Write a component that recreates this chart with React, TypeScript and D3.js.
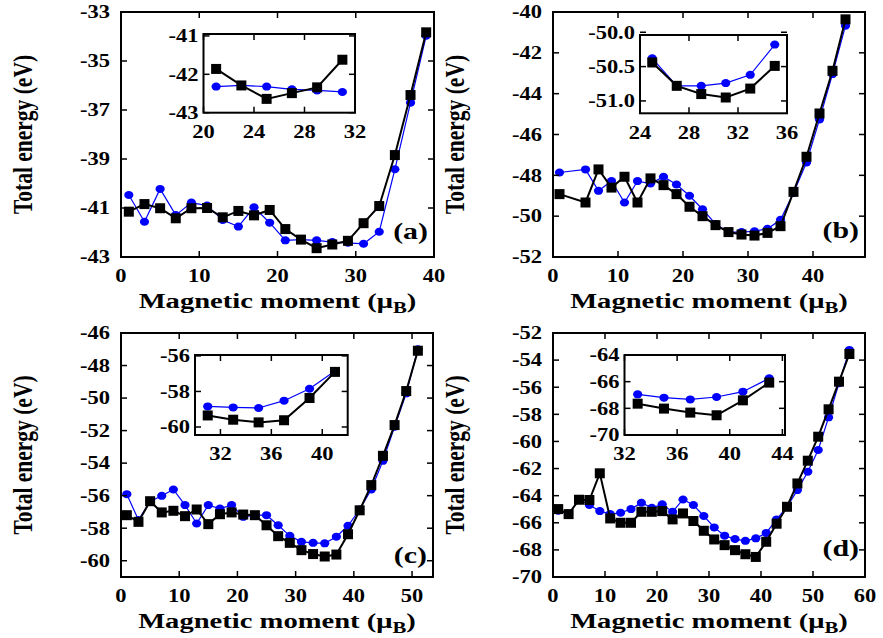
import * as d3 from "d3";

const FONT = "'Liberation Serif', 'Times New Roman', Times, serif";
const SX = 1.25; // the original figure is stretched sideways
const BLUE = "#0000ff";

// ---- panel (a) ----
const momentA = [1, 3, 5, 7, 9, 11, 13, 15, 17, 19, 21, 23, 25, 27, 29, 31, 33, 35, 37, 39];
const squaresA = [-41.15, -40.84, -41.01, -41.42, -41.01, -41.0, -41.38, -41.12, -41.3, -41.08,
  -41.86, -42.29, -42.64, -42.49, -42.34, -41.62, -40.92, -38.84, -36.39, -33.83];
const circlesA = [-40.47, -41.56, -40.22, -41.29, -40.78, -40.9, -41.49, -41.76, -40.97, -41.6,
  -42.32, -42.29, -42.32, -42.39, -42.42, -42.46, -41.97, -39.42, -36.7, -33.97];

// ---- panel (b) ----
const momentB = [1, 5, 7, 9, 11, 13, 15, 17, 19, 21, 23, 25, 27, 29, 31, 33, 35, 37, 39, 41, 43, 45];
const squaresB = [-48.92, -49.33, -47.71, -48.6, -48.07, -49.33, -48.15, -48.48, -48.92, -49.54, -50.0,
  -50.44, -50.78, -50.9, -50.95, -50.82, -50.49, -48.81, -47.09, -44.97, -42.88, -40.36];
const circlesB = [-47.86, -47.71, -48.76, -48.28, -49.33, -48.28, -48.4, -48.07, -48.45, -49.0, -49.66,
  -50.38, -50.78, -50.78, -50.74, -50.62, -50.18, -48.86, -47.37, -45.26, -43.04, -40.67];

// ---- panel (c) ----
const momentC = [1, 3, 5, 7, 9, 11, 13, 15, 17, 19, 21, 23, 25, 27, 29, 31, 33, 35, 37, 39, 41, 43, 45, 47, 49, 51];
const squaresC = [-57.2, -57.61, -56.34, -57.03, -56.93, -57.26, -56.85, -57.75, -57.14, -57.03, -57.16, -57.2, -57.82,
  -58.49, -58.9, -59.35, -59.59, -59.74, -59.62, -58.37, -56.9, -55.35, -53.55, -51.66, -49.57, -47.09];
const circlesC = [-55.91, -57.5, -56.35, -56.01, -55.62, -56.58, -57.71, -56.58, -56.79, -56.58, -57.3, -57.2, -57.2,
  -57.82, -58.47, -58.84, -58.9, -58.93, -58.52, -57.85, -56.85, -55.62, -53.86, -51.76, -49.71, -47.0];

// ---- panel (d) ----
const momentD = [1, 3, 5, 7, 9, 11, 13, 15, 17, 19, 21, 23, 25, 27, 29, 31, 33, 35, 37, 39, 41, 43, 45, 47, 49, 51, 53, 55, 57];
const squaresD = [-64.99, -65.36, -64.3, -64.32, -62.35, -65.68, -66.0, -66.0, -65.19, -65.19, -65.14, -65.75, -65.31, -65.87,
  -66.59, -67.23, -67.65, -68.02, -68.32, -68.52, -67.4, -66.07, -64.82, -63.1, -61.42, -59.65, -57.63, -55.59, -53.55];
const circlesD = [-65.11, -65.36, -64.28, -64.69, -65.14, -65.36, -65.26, -64.99, -64.52, -64.89, -64.64, -65.19, -64.28, -64.69,
  -65.5, -66.34, -66.95, -67.2, -67.33, -67.15, -66.75, -65.75, -64.82, -63.59, -62.23, -60.63, -58.22, -55.71, -53.25];

// tick labels
const xTicksA = [0, 10, 20, 30, 40];
const yTicksA = [-43, -41, -39, -37, -35, -33];
const xTicksB = [0, 10, 20, 30, 40];
const yTicksB = [-52, -50, -48, -46, -44, -42, -40];
const xTicksC = [0, 10, 20, 30, 40, 50];
const yTicksC = [-60, -58, -56, -54, -52, -50, -48, -46];
const xTicksD = [0, 10, 20, 30, 40, 50, 60];
const yTicksD = [-70, -68, -66, -64, -62, -60, -58, -56, -54, -52];

const insetXTicksA = [20, 24, 28, 32];
const insetYTicksA = [-43, -42, -41];
const insetXTicksB = [24, 28, 32, 36];
const insetYTicksB = [-51.0, -50.5, -50.0];
const insetXTicksC = [32, 36, 40];
const insetYTicksC = [-60, -58, -56];
const insetXTicksD = [32, 36, 40, 44];
const insetYTicksD = [-70, -68, -66, -64];

const panels = [
  {
    label: "(a)", moment: momentA, squares: squaresA, circles: circlesA,
    xDomain: [0, 40], yDomain: [-43, -33], xTicks: xTicksA, yTicks: yTicksA,
    left: 121, right: 434, top: 12, bottom: 257, labelDy: 18,
    inset: { range: [21, 31], xDomain: [20, 32], yDomain: [-43, -40.95], xTicks: insetXTicksA, yTicks: insetYTicksA, dec: 0,
      left: 203.5, right: 355, top: 34, bottom: 112.7 },
  },
  {
    label: "(b)", moment: momentB, squares: squaresB, circles: circlesB,
    xDomain: [0, 48], yDomain: [-52, -40], xTicks: xTicksB, yTicks: yTicksB,
    left: 553, right: 865, top: 12, bottom: 257, labelDy: 19,
    inset: { range: [25, 35], xDomain: [24, 36], yDomain: [-51.18, -50.04], xTicks: insetXTicksB, yTicks: insetYTicksB, dec: 1,
      left: 640, right: 787, top: 35, bottom: 113.3 },
  },
  {
    label: "(c)", moment: momentC, squares: squaresC, circles: circlesC,
    xDomain: [0, 53.6], yDomain: [-61, -46], xTicks: xTicksC, yTicks: yTicksC,
    left: 121, right: 433, top: 333, bottom: 577, labelDy: 14,
    inset: { range: [31, 41], xDomain: [30, 42], yDomain: [-60.45, -55.95], xTicks: insetXTicksC, yTicks: insetYTicksC, dec: 0,
      left: 195, right: 347.7, top: 355, bottom: 435 },
  },
  {
    label: "(d)", moment: momentD, squares: squaresD, circles: circlesD,
    xDomain: [0, 60], yDomain: [-70, -52], xTicks: xTicksD, yTicks: yTicksD,
    left: 553, right: 865, top: 333, bottom: 577, labelDy: 21,
    inset: { range: [33, 43], xDomain: [32, 44.2], yDomain: [-70, -64], xTicks: insetXTicksD, yTicks: insetYTicksD, dec: 0,
      left: 624.5, right: 785, top: 355, bottom: 435 },
  },
];

function SText({ x, y, size, anchor = "middle", sx = SX, dy = "0.35em", children }: any) {
  return (
    <text transform={`translate(${x},${y}) scale(${sx},1)`} fontFamily={FONT} fontWeight="bold"
      fontSize={size} textAnchor={anchor} dy={dy} fill="#000">
      {children}
    </text>
  );
}

function Series({ xs, ys, x, y, kind }: any) {
  const pts = xs.map((m: number, i: number) => [x(m), y(ys[i])]);
  const line = d3.line();
  if (kind === "circle") {
    return (
      <g>
        <path d={line(pts) as string} fill="none" stroke={BLUE} strokeWidth={1.2} />
        {pts.map((p: number[], i: number) => (
          <ellipse key={i} cx={p[0]} cy={p[1]} rx={4.6} ry={4} fill={BLUE} />
        ))}
      </g>
    );
  }
  return (
    <g>
      <path d={line(pts) as string} fill="none" stroke="#000" strokeWidth={2} />
      {pts.map((p: number[], i: number) => (
        <rect key={i} x={p[0] - 5} y={p[1] - 5} width={10} height={10} fill="#000" />
      ))}
    </g>
  );
}

function Frame({ x, y, xTicks, yTicks, dec, yLabelGap }: any) {
  const [l, r] = x.range();
  const [b, t] = y.range();
  const tl = 6;
  return (
    <g>
      {xTicks.map((v: number) => (
        <g key={"x" + v}>
          <line x1={x(v)} x2={x(v)} y1={b} y2={b - tl} stroke="#000" strokeWidth={1.5} />
          <line x1={x(v)} x2={x(v)} y1={t} y2={t + tl} stroke="#000" strokeWidth={1.5} />
          <SText x={x(v)} y={b + 19} size={18}>{String(v)}</SText>
        </g>
      ))}
      {yTicks.map((v: number) => (
        <g key={"y" + v}>
          <line x1={l} x2={l + tl} y1={y(v)} y2={y(v)} stroke="#000" strokeWidth={1.5} />
          <line x1={r} x2={r - tl} y1={y(v)} y2={y(v)} stroke="#000" strokeWidth={1.5} />
          <SText x={l - yLabelGap} y={y(v)} size={18} anchor="end">{v.toFixed(dec)}</SText>
        </g>
      ))}
      <rect x={l} y={t} width={r - l} height={b - t} fill="none" stroke="#000" strokeWidth={2} />
    </g>
  );
}

function Panel({ p }: any) {
  const x = d3.scaleLinear().domain(p.xDomain).range([p.left, p.right]);
  const y = d3.scaleLinear().domain(p.yDomain).range([p.bottom, p.top]);
  const ins = p.inset;
  const ix = d3.scaleLinear().domain(ins.xDomain).range([ins.left, ins.right]);
  const iy = d3.scaleLinear().domain(ins.yDomain).range([ins.bottom, ins.top]);
  const keep = p.moment.map((m: number) => m >= ins.range[0] && m <= ins.range[1]);
  const im = p.moment.filter((_: number, i: number) => keep[i]);
  const isq = p.squares.filter((_: number, i: number) => keep[i]);
  const ici = p.circles.filter((_: number, i: number) => keep[i]);
  const cx = (p.left + p.right) / 2;
  const cy = (p.top + p.bottom) / 2;
  return (
    <g>
      <Series xs={p.moment} ys={p.circles} x={x} y={y} kind="circle" />
      <Series xs={p.moment} ys={p.squares} x={x} y={y} kind="square" />
      <Frame x={x} y={y} xTicks={p.xTicks} yTicks={p.yTicks} dec={0} yLabelGap={11} />

      <rect x={ins.left} y={ins.top} width={ins.right - ins.left} height={ins.bottom - ins.top} fill="#fff" />
      <Series xs={im} ys={ici} x={ix} y={iy} kind="circle" />
      <Series xs={im} ys={isq} x={ix} y={iy} kind="square" />
      <Frame x={ix} y={iy} xTicks={ins.xTicks} yTicks={ins.yTicks} dec={ins.dec} yLabelGap={5} />

      <SText x={p.right - 6} y={p.bottom - p.labelDy} size={23} anchor="end" dy="0" sx={1.3}>{p.label}</SText>

      <SText x={cx} y={p.bottom + 51} size={22} dy="0" sx={1.3}>
        Magnetic moment (μ<tspan dy="5" fontSize={16}>B</tspan><tspan dy="-5">)</tspan>
      </SText>
      <text transform={`translate(${p.left - 89},${cy}) scale(${SX},1) rotate(-90)`} fontFamily={FONT}
        fontWeight="bold" fontSize={21.5} textAnchor="middle" fill="#000">
        Total energy (eV)
      </text>
    </g>
  );
}

export default function App() {
  return (
    <svg width={883} height={638} viewBox="0 0 883 638"
      style={{ position: "absolute", left: 0, top: 0, background: "#fff" }}>
      <rect width={883} height={638} fill="#fff" />
      {panels.map((p) => (
        <Panel key={p.label} p={p} />
      ))}
    </svg>
  );
}
